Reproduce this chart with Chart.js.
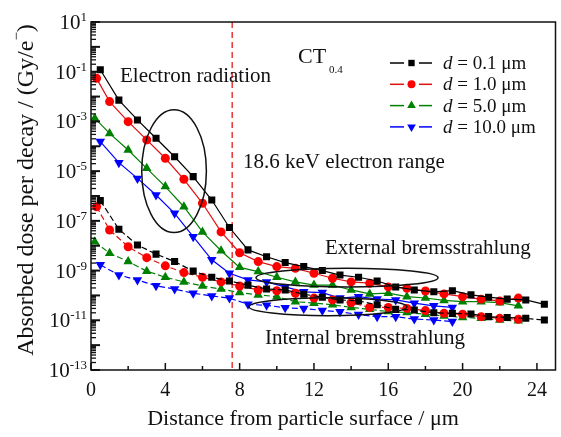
<!DOCTYPE html>
<html>
<head>
<meta charset="utf-8">
<script src="https://cdn.jsdelivr.net/npm/chart.js@4.4.1/dist/chart.umd.min.js"></script>
<style>
body { margin: 0; background: #fff; }
#wrap { width: 561px; height: 437px; }
</style>
</head>
<body>
<div id="wrap"><canvas id="doseChart"></canvas></div>
<script>
// distances (um)
var distOdd = [0.5,1.5,2.5,3.5,4.5,5.5,6.5,7.45,8.45,9.45,10.45,11.45,12.45,13.4,14.4,15.4,16.4,17.4,18.45,19.45,20.45,21.4,22.4,23.4,24.4];
var distEven = [0.3,1,2,3,4,5,6,7,8,9,10,11,12,13,14,15,16,17,18,19,20,21,22,23];
var distGreen = [0.2,1,2,3,4,5,6,7,8,9,10,11,12,13,14,15,16,17,18,19,20,21,22,23];
var distBlue = [0.5,1.5,2.5,3.5,4.5,5.5,6.5,7.45,8.45,9.45,10.45,11.45,12.45,13.4,14.4,15.4,16.4,17.4,18.45,19.45];

// electron radiation (upper group)
var elecBlack = [1.2e-1,7.2e-3,1.15e-3,2.1e-4,3.8e-5,6.0e-6,6.9e-7,5.4e-8,6.8e-9,3.6e-9,2.1e-9,1.45e-9,1.0e-9,6.6e-10,5.4e-10,3.8e-10,2.2e-10,1.66e-10,1.4e-10,1.55e-10,1.05e-10,8.5e-11,7.1e-11,6.6e-11,4.4e-11];
var elecRed = [5.4e-2,6.3e-3,9.8e-4,1.8e-4,3.3e-5,4.7e-6,5.1e-7,3.6e-8,5.2e-9,2.3e-9,1.45e-9,1.23e-9,7.8e-10,4.9e-10,3.5e-10,3.1e-10,2.2e-10,1.95e-10,1.5e-10,1.15e-10,8.9e-11,7.1e-11,6.0e-11,7.8e-11];
var elecGreen = [1.35e-3,3.3e-4,7.1e-5,1.3e-5,2.4e-6,3.7e-7,3.6e-8,6.3e-9,1.35e-9,9.1e-10,5.4e-10,3.5e-10,2.6e-10,2.6e-10,1.66e-10,1.15e-10,1.23e-10,8.9e-11,7.9e-11,6.3e-11,5.6e-11,5.6e-11,5.1e-11,3.8e-11];
var elecBlue = [1.55e-4,2.2e-5,5.1e-6,1.1e-6,2.0e-7,2.3e-8,2.7e-9,7.8e-10,4.2e-10,3.5e-10,2.2e-10,1.4e-10,1.3e-10,7.8e-11,8.9e-11,7.2e-11,6.6e-11,4.9e-11,3.8e-11,3.3e-11];

// bremsstrahlung (lower group)
var bremBlack = [6.5e-7,4.6e-8,1.07e-8,4.6e-9,2.3e-9,9.5e-10,5.4e-10,3.8e-10,2.6e-10,1.8e-10,1.66e-10,1.12e-10,8.5e-11,6.6e-11,6.0e-11,4.2e-11,2.75e-11,2.6e-11,2.0e-11,1.9e-11,1.8e-11,1.4e-11,1.3e-11,1.2e-11,1.02e-11];
var bremRed = [3.7e-7,4.3e-8,9.1e-9,3.3e-9,1.55e-9,8.3e-10,5.4e-10,3.5e-10,2.4e-10,1.66e-10,1.55e-10,1.23e-10,7.8e-11,6.6e-11,5.1e-11,3.3e-11,3.3e-11,3.0e-11,2.45e-11,1.9e-11,1.75e-11,1.4e-11,1.2e-11,1.1e-11];
var bremGreen = [1.45e-8,5.0e-9,2.3e-9,9.5e-10,5.4e-10,3.5e-10,2.4e-10,1.8e-10,1.3e-10,1.05e-10,8.9e-11,5.6e-11,4.9e-11,4.2e-11,3.3e-11,2.75e-11,2.25e-11,2.05e-11,1.75e-11,1.5e-11,1.3e-11,1.2e-11,1.02e-11,9.5e-12];
var bremBlue = [1.7e-9,6.6e-10,4.2e-10,2.45e-10,1.8e-10,1.23e-10,9.5e-11,7.8e-11,4.4e-11,4.0e-11,3.2e-11,2.95e-11,2.5e-11,2.2e-11,1.7e-11,1.4e-11,1.4e-11,1.12e-11,1.02e-11,8.9e-12];

var thickness = ['0.1', '1.0', '5.0', '10.0'];
var xTicks = [0, 4, 8, 12, 16, 20, 24];
var xMinorTicks = [2, 6, 10, 14, 18, 22];
var yTickExps = [1, -1, -3, -5, -7, -9, -11, -13];
var electronRange = 7.6;

var serif = "'Liberation Serif', 'Times New Roman', serif";
var styles = [
    { color: '#000000', line: '#000000', shape: 'rect', r: 5, rot: 0 },
    { color: '#ff0000', line: '#e01010', shape: 'circle', r: 4.5, rot: 0 },
    { color: '#008000', line: '#008000', shape: 'triangle', r: 5.5, rot: 0 },
    { color: '#0000ff', line: '#0000ff', shape: 'triangle', r: 5.5, rot: 180 }
];

function pts(xs, ys) {
    return ys.map(function (v, i) { return { x: xs[i], y: v }; });
}

function series(xs, ys, k, dashed) {
    var s = styles[k];
    return {
        data: pts(xs, ys),
        borderColor: s.line,
        backgroundColor: s.color,
        borderWidth: 1.2,
        borderDash: dashed ? [6, 3] : [],
        pointStyle: s.shape,
        pointRotation: s.rot,
        pointRadius: s.r,
        pointBorderWidth: 0,
        pointBackgroundColor: s.color,
        tension: 0
    };
}

var datasets = [
    series(distOdd, elecBlack, 0, false),
    series(distOdd, bremBlack, 0, true),
    series(distEven, elecRed, 1, false),
    series(distEven, bremRed, 1, true),
    series(distGreen, elecGreen, 2, false),
    series(distGreen, bremGreen, 2, true),
    series(distBlue, elecBlue, 3, false),
    series(distBlue, bremBlue, 3, true)
];

// ellipses marking the groups, in data units
var ellipses = [
    { x: 4.47, y: 1e-5, rx: 1.74, dec: 2.47 },
    { x: 13.78, y: 5.2e-10, rx: 4.9, dec: 0.38 },
    { x: 12.75, y: 3.5e-11, rx: 4.25, dec: 0.36 }
];

function line(ctx, x1, y1, x2, y2) {
    ctx.beginPath(); ctx.moveTo(x1, y1); ctx.lineTo(x2, y2); ctx.stroke();
}

var decorations = {
    id: 'decorations',
    beforeDatasetsDraw: function (chart) {
        var ctx = chart.ctx, a = chart.chartArea;
        var px = chart.scales.x.getPixelForValue(electronRange);
        ctx.save();
        ctx.strokeStyle = '#e8383b';
        ctx.lineWidth = 1.5;
        ctx.setLineDash([6, 4]);
        line(ctx, px, a.top, px, a.bottom);
        ctx.restore();
    },
    afterDatasetsDraw: function (chart) {
        var ctx = chart.ctx, a = chart.chartArea;
        var xs = chart.scales.x, ys = chart.scales.y;
        ctx.save();
        ctx.strokeStyle = '#111';
        ctx.fillStyle = '#111';
        ctx.lineWidth = 1.5;
        ctx.strokeRect(a.left, a.top, a.right - a.left, a.bottom - a.top);

        // inward ticks on the left axis
        for (var e = -13; e <= 1; e++) {
            var py = ys.getPixelForValue(Math.pow(10, e));
            ctx.lineWidth = 2;
            line(ctx, a.left, py, a.left + 9, py);
            if (e < 1) {
                ctx.lineWidth = 1.3;
                for (var m = 2; m <= 9; m++) {
                    var q = ys.getPixelForValue(m * Math.pow(10, e));
                    line(ctx, a.left, q, a.left + 5, q);
                }
            }
        }
        // inward ticks on the bottom axis
        ctx.lineWidth = 1.5;
        xTicks.forEach(function (t) {
            var px = xs.getPixelForValue(t);
            line(ctx, px, a.bottom, px, a.bottom - 7);
        });
        xMinorTicks.forEach(function (t) {
            var px = xs.getPixelForValue(t);
            line(ctx, px, a.bottom, px, a.bottom - 4);
        });

        // x tick labels
        ctx.font = '20px ' + serif;
        ctx.textAlign = 'center';
        ctx.textBaseline = 'alphabetic';
        xTicks.forEach(function (t) {
            ctx.fillText(String(t), xs.getPixelForValue(t), a.bottom + 26);
        });

        // y tick labels 10^n
        ctx.textAlign = 'left';
        yTickExps.forEach(function (n) {
            var py = ys.getPixelForValue(Math.pow(10, n));
            ctx.font = '13px ' + serif;
            var sup = n < 0 ? '-' + (-n) : String(n);
            var ws = ctx.measureText(sup).width;
            ctx.font = '21px ' + serif;
            var wb = ctx.measureText('10').width;
            var right = a.left - 4;
            ctx.fillText('10', right - ws - wb, py + 7);
            ctx.font = '13px ' + serif;
            ctx.fillText(sup, right - ws, py - 1);
        });

        // axis titles
        ctx.font = '22px ' + serif;
        ctx.textAlign = 'center';
        ctx.fillText('Distance from particle surface / \u03bcm', 303, 425);

        ctx.save();
        ctx.translate(33, 190);
        ctx.rotate(-Math.PI / 2);
        ctx.font = '24px ' + serif;
        var t1 = 'Absorbed dose per decay / (Gy/e';
        var w1 = ctx.measureText(t1).width;
        ctx.font = '15px ' + serif;
        var w2 = ctx.measureText('\u2212').width;
        ctx.font = '24px ' + serif;
        var w3 = ctx.measureText(')').width;
        var x0 = -(w1 + w2 + w3) / 2;
        ctx.textAlign = 'left';
        ctx.fillText(t1, x0, 0);
        ctx.font = '15px ' + serif;
        ctx.fillText('\u2212', x0 + w1, -12);
        ctx.font = '24px ' + serif;
        ctx.fillText(')', x0 + w1 + w2, 0);
        ctx.restore();

        // annotations
        ctx.font = '21px ' + serif;
        ctx.textAlign = 'left';
        ctx.fillText('Electron radiation', 120, 82);
        ctx.fillText('18.6 keV electron range', 243, 168);
        ctx.fillText('External bremsstrahlung', 325, 254);
        ctx.fillText('Internal bremsstrahlung', 265, 344);
        ctx.font = '22px ' + serif;
        ctx.fillText('CT', 298, 63);
        ctx.font = '11px ' + serif;
        ctx.fillText('0.4', 329, 73);

        // ellipses
        ctx.lineWidth = 1.5;
        ellipses.forEach(function (el) {
            var cx = xs.getPixelForValue(el.x), cy = ys.getPixelForValue(el.y);
            var rx = xs.getPixelForValue(el.x + el.rx) - cx;
            var ry = cy - ys.getPixelForValue(el.y * Math.pow(10, el.dec));
            ctx.beginPath();
            ctx.ellipse(cx, cy, rx, ry, 0, 0, Math.PI * 2);
            ctx.stroke();
        });

        // legend
        thickness.forEach(function (d, i) {
            var s = styles[i];
            var cy = 63 + i * 21.3;
            ctx.strokeStyle = s.line;
            ctx.lineWidth = 1.5;
            line(ctx, 390, cy, 404, cy);
            line(ctx, 419, cy, 432, cy);
            ctx.fillStyle = s.color;
            Chart.helpers.drawPoint(ctx, { pointStyle: s.shape, rotation: s.rot, radius: s.r - 0.5, borderWidth: 0 }, 411.5, cy);
            ctx.fillStyle = '#111';
            ctx.font = 'italic 19px ' + serif;
            ctx.textAlign = 'left';
            ctx.fillText('d', 443, cy + 6);
            var wd = ctx.measureText('d').width;
            ctx.font = '19px ' + serif;
            ctx.fillText(' = ' + d + ' \u03bcm', 443 + wd, cy + 6);
        });
        ctx.restore();
    }
};

new Chart(document.getElementById('doseChart'), {
    type: 'scatter',
    data: { datasets: datasets },
    options: {
        responsive: true,
        maintainAspectRatio: false,
        animation: false,
        showLine: true,
        layout: { padding: { left: 91, top: 22, right: 3, bottom: 67 } },
        plugins: { legend: { display: false }, tooltip: { enabled: false } },
        scales: {
            x: { type: 'linear', min: 0, max: 25, display: false },
            y: { type: 'logarithmic', min: 1e-13, max: 10, display: false }
        }
    },
    plugins: [decorations]
});
</script>
</body>
</html>
